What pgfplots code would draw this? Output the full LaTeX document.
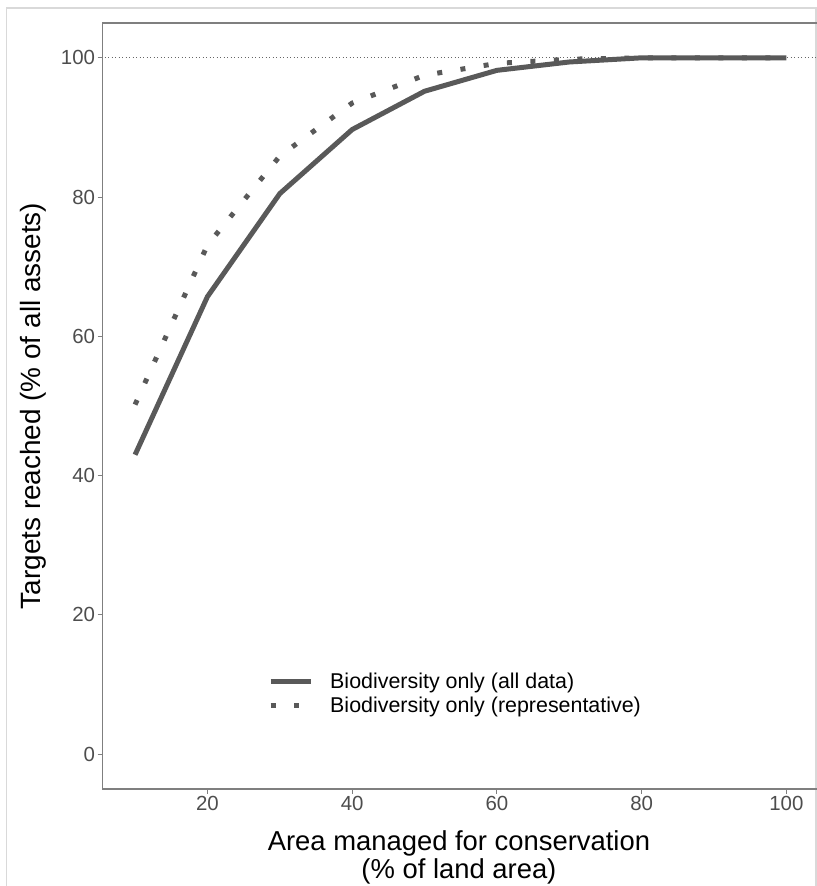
\documentclass[border=0pt]{standalone}
\usepackage{pgfplots}
\pgfplotsset{compat=1.18}
\usepackage{fontspec}
\setmainfont{Liberation Sans}
\definecolor{lc}{HTML}{595959}
\definecolor{tc}{HTML}{4D4D4D}
\definecolor{bc}{HTML}{7F7F7F}
\begin{document}
\begin{tikzpicture}
\path[use as bounding box] (0bp,0bp) rectangle (817bp,886bp);
\clip (0bp,0bp) rectangle (817bp,886bp);
\draw[gray!30, line width=1.2bp] (6.5bp,-2bp) -- (6.5bp,878bp) -- (816bp,878bp) -- (816bp,-2bp);
\begin{axis}[
  at={(102.5bp,97bp)}, anchor=south west,
  scale only axis, width=716.5bp, height=766bp,
  xmin=5.5, xmax=104.5, ymin=-5, ymax=105,
  xtick={20,40,60,80,100}, ytick={0,20,40,60,80,100},
  axis line style={bc, line width=1.1bp},
  tick style={bc, line width=1.1bp},
  tick align=outside, major tick length=5bp,
  xtick pos=bottom, ytick pos=left,
  tick label style={font=\fontsize{20.5}{24}\selectfont, text=tc},
  /pgf/number format/assume math mode=true,
  yticklabel style={xshift=1bp},
  xticklabel style={yshift=1bp},
  xlabel={Area managed for conservation\\(\% of land area)},
  xlabel style={font=\fontsize{27.5}{28.5}\selectfont, align=center,
    at={(axis description cs:0.4975,-0.077)}, anchor=base, yshift=-31bp},
  ylabel={Targets reached (\% of all assets)},
  ylabel style={font=\fontsize{28}{31}\selectfont,
    at={(axis description cs:-0.0963,0.5)}, anchor=center},
  legend style={at={(0.231,0.1514)}, anchor=north west, draw=none, fill=none,
    font=\fontsize{21.5}{24}\selectfont, row sep=6.3bp, inner sep=0pt,
    nodes={inner sep=0pt},
    /tikz/every odd column/.append style={column sep=17bp}},
  legend cell align=left,
  legend image code/.code={\draw[#1] (0bp,0bp) -- (40bp,0bp);},
]
\addplot[gray!80!black, line width=1bp, dash pattern=on 1bp off 2.5bp, forget plot] coordinates {(0,100) (110,100)};
\addplot[lc, line width=5bp, line join=round] coordinates {
(10,43.0) (20,65.7) (30,80.5) (40,89.7) (50,95.2) (60,98.2) (70,99.4) (80,100) (90,100) (100,100)};
\addlegendentry{Biodiversity only (all data)}
\addplot[lc, line width=5bp, dash pattern=on 5bp off 18.5bp] coordinates {
(10,50.2) (20,73.1) (30,85.9) (40,93.5) (50,97.5) (60,99.2) (70,99.8) (80,100) (90,100) (100,100)};
\addlegendentry{Biodiversity only (representative)}
\end{axis}
\end{tikzpicture}
\end{document}
